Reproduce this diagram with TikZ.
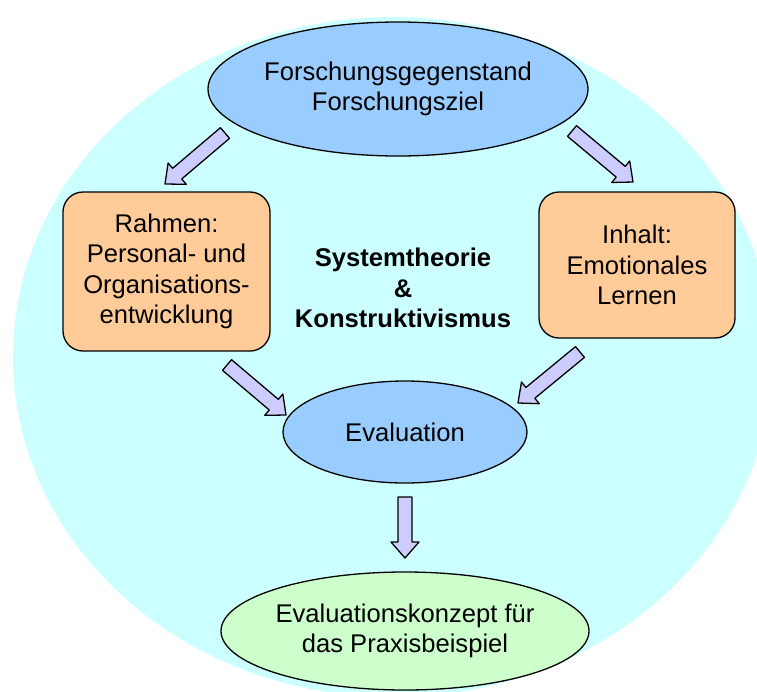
\documentclass[tikz,border=0pt]{standalone}
\usepackage{fontspec}
\setmainfont{Liberation Sans}
\usetikzlibrary{calc,shapes.geometric}

\definecolor{bgcyan}{HTML}{CCFFFF}
\definecolor{skyblue}{HTML}{99CCFF}
\definecolor{peach}{HTML}{FFCC99}
\definecolor{mint}{HTML}{CCFFCC}
\definecolor{lilac}{HTML}{CCCCFF}

\tikzset{
  txt/.style={font=\fontsize{25.6}{30.5}\selectfont, align=center, text=black},
  oval/.style={txt, ellipse, draw=black, line width=1.3pt, inner sep=0pt},
  framebox/.style={txt, rectangle, rounded corners=20pt, draw=black,
    line width=1.3pt, fill=peach, inner sep=0pt},
  arrowshape/.style={draw=black, line width=1.3pt, fill=lilac, line join=round},
}

% block arrow from tail #1 to tip #2
\newcommand\blockarr[2]{%
  \coordinate (hb) at ($(#2)!16pt!(#1)$);
  \draw[arrowshape]
    ($(#1)!7pt!90:(#2)$) -- ($(hb)!7pt!90:(#2)$) -- ($(hb)!14pt!90:(#2)$)
    -- (#2)
    -- ($(hb)!14pt!-90:(#2)$) -- ($(hb)!7pt!-90:(#2)$) -- ($(#1)!7pt!-90:(#2)$)
    -- cycle;}

\begin{document}
\begin{tikzpicture}[x=1pt, y=-1pt]
  \useasboundingbox (0,0) rectangle (757,691);

  % background disc
  \fill[bgcyan] (393,357) ellipse [x radius=380pt, y radius=340pt];

  % nodes
  \node[oval, fill=skyblue, minimum width=380pt, minimum height=134pt]
    (goal) at (398,89) {Forschungsgegenstand\\Forschungsziel};
  \node[framebox, minimum width=207pt, minimum height=159pt]
    (frame) at (166.5,271.5) {Rahmen:\\Personal- und\\Organisations-\\entwicklung};
  \node[framebox, minimum width=196pt, minimum height=146pt]
    (content) at (637,265) {Inhalt:\\Emotionales\\Lernen};
  \node[txt, font=\bfseries\fontsize{25.6}{30.5}\selectfont]
    (theory) at (403,288) {Systemtheorie\\\&\\Konstruktivismus};
  \node[oval, fill=skyblue, minimum width=244pt, minimum height=102pt]
    (eval) at (405,432) {Evaluation};
  \node[oval, fill=mint, minimum width=368pt, minimum height=118pt]
    (concept) at (405,631) {Evaluationskonzept für\\das Praxisbeispiel};

  % arrow end points
  \coordinate (goal-frame-t)    at (225,133);
  \coordinate (goal-frame-h)    at (165,184);
  \coordinate (goal-content-t)  at (572,131);
  \coordinate (goal-content-h)  at (633,182);
  \coordinate (frame-eval-t)    at (227,365);
  \coordinate (frame-eval-h)    at (286,415);
  \coordinate (content-eval-t)  at (580,352);
  \coordinate (content-eval-h)  at (518,403);
  \coordinate (eval-concept-t)  at (405,497);
  \coordinate (eval-concept-h)  at (405,558);

  % block arrows
  \blockarr{goal-frame-t}{goal-frame-h}
  \blockarr{goal-content-t}{goal-content-h}
  \blockarr{frame-eval-t}{frame-eval-h}
  \blockarr{content-eval-t}{content-eval-h}
  \blockarr{eval-concept-t}{eval-concept-h}
\end{tikzpicture}
\end{document}
